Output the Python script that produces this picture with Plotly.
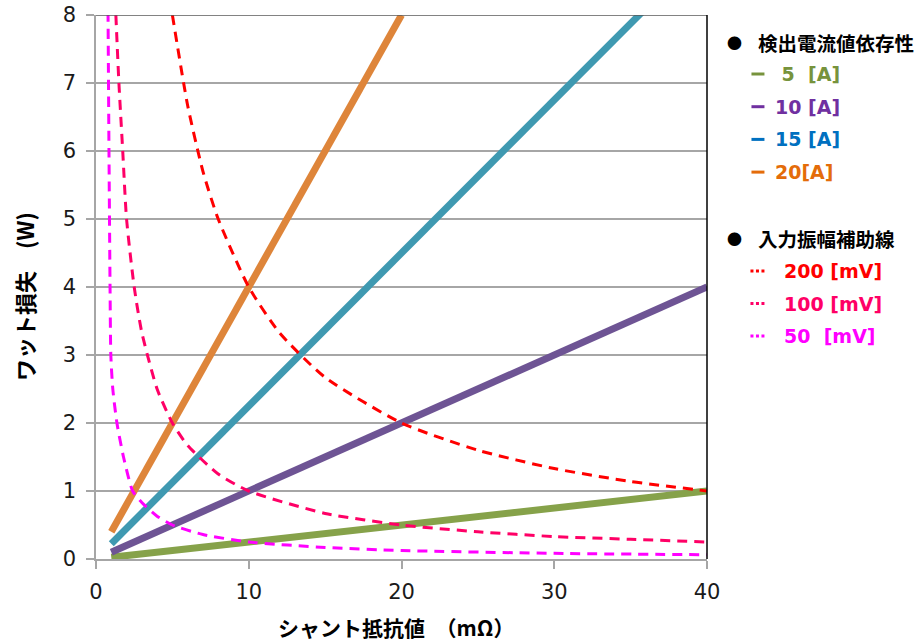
import plotly.graph_objects as go

# ---- data ----
line_names = ["5 [A]", "10 [A]", "15 [A]", "20[A]"]
line_colors = ["#86A24A", "#6E5494", "#3F99B1", "#DE853A"]
line_x = [[1, 40], [1, 40], [1, 40], [1, 20]]
line_y = [[0.025, 1.0], [0.1, 4.0], [0.225, 9.0], [0.4, 8.0]]

curve_names = ["200 [mV]", "100 [mV]", "50 [mV]"]
curve_colors = ["#FF0000", "#FF0066", "#FF00FF"]
red_x = [5, 6, 7, 8, 10, 12, 15, 20, 25, 30, 35, 40]
red_y = [8.0, 6.67, 5.7, 5.0, 4.0, 3.33, 2.67, 2.0, 1.6, 1.33, 1.14, 1.0]
crim_x = [1.3, 1.5, 1.75, 2, 2.5, 3, 4, 5, 6, 8, 10, 15, 20, 25, 30, 35, 40]
crim_y = [8.0, 7.0, 6.0, 5.0, 4.0, 3.33, 2.5, 2.0, 1.67, 1.25, 1.0, 0.67, 0.5, 0.4, 0.33, 0.29, 0.25]
mag_x = [0.78, 0.85, 0.92, 0.97, 1.1, 1.37, 1.8, 2.4, 3, 4, 5, 7, 10, 15, 20, 30, 40]
mag_y = [8.3, 6.0, 4.0, 3.0, 2.5, 2.0, 1.5, 1.0, 0.83, 0.63, 0.5, 0.36, 0.25, 0.17, 0.125, 0.083, 0.063]
curve_x = [red_x, crim_x, mag_x]
curve_y = [red_y, crim_y, mag_y]

x_ticks = [0, 10, 20, 30, 40]
y_ticks = [0, 1, 2, 3, 4, 5, 6, 7, 8]

W, H = 917, 643
L, R, T, B = 96, 707.5, 15, 559  # plot box in pixels

fig = go.Figure()
for nm, c, xs, ys in zip(line_names, line_colors, line_x, line_y):
    fig.add_trace(go.Scatter(x=xs, y=ys, mode="lines", name=nm,
                             line=dict(color=c, width=7)))
for nm, c, xs, ys in zip(curve_names, curve_colors, curve_x, curve_y):
    fig.add_trace(go.Scatter(x=xs, y=ys, mode="lines", name=nm,
                             line=dict(color=c, width=3, dash="10px,7px",
                                       shape="spline", smoothing=0.6)))

def px(xp):
    return (xp - L) / (R - L)

def py(yp):
    return (B - yp) / (B - T)

ann = []
shapes = []
jp = "Noto Sans CJK JP"
lat = "DejaVu Sans"
def add_text(x, y, text, color="#000000", size=17, xanchor="left", family=jp):
    ann.append(dict(x=px(x), y=py(y), xref="paper", yref="paper", text=text,
                    showarrow=False, xanchor=xanchor, yanchor="middle",
                    font=dict(family=family, size=size, color=color)))

def add_mark(x0, x1, y, color, dash="solid"):
    shapes.append(dict(type="line", xref="paper", yref="paper",
                       x0=px(x0), x1=px(x1), y0=py(y), y1=py(y),
                       line=dict(color=color, width=3, dash=dash)))

# legend group 1
add_text(735, 42, "●", size=15, xanchor="center")
add_text(757, 42, "<b>検出電流値依存性</b>", size=19.5)
leg_text_colors = ["#77933C", "#7030A0", "#0070C0", "#E46C0A"]
leg_labels = ["\u00a05\u00a0\u00a0[A]", "10\u00a0[A]", "15\u00a0[A]", "20[A]"]
for i, (lab, c) in enumerate(zip(leg_labels, leg_text_colors)):
    yy = 74 + i * 32.7
    add_mark(752, 765, yy, c)
    add_text(774, yy, "<b>" + lab + "</b>", color=c, size=19, family=lat)

# legend group 2
add_text(735, 238, "●", size=15, xanchor="center")
add_text(757, 238, "<b>入力振幅補助線</b>", size=19.5)
leg2_labels = ["200\u00a0[mV]", "100\u00a0[mV]", "50\u00a0\u00a0[mV]"]
for i, (lab, c) in enumerate(zip(leg2_labels, curve_colors)):
    yy = 271 + i * 32.5
    add_mark(751, 765, yy, c, dash="3px,2.5px")
    add_text(783, yy, "<b>" + lab + "</b>", color=c, size=19, family=lat)

# axis titles
ann.append(dict(x=px(396), y=py(627), xref="paper", yref="paper",
                text="<b>シャント抵抗値\u3000（mΩ）</b>", showarrow=False,
                xanchor="center", yanchor="middle",
                font=dict(family=jp, size=21, color="#000000")))
ann.append(dict(x=px(24), y=py(297), xref="paper", yref="paper",
                text="<b>ワット損失\u3000(W)</b>", showarrow=False, textangle=-90,
                xanchor="center", yanchor="middle",
                font=dict(family=jp, size=22, color="#000000")))

shapes += [
    dict(type="line", xref="paper", yref="y", x0=0, x1=1, y0=8, y1=8,
         layer="above", line=dict(color="#595959", width=1.5)),
    dict(type="line", xref="paper", yref="paper", x0=1, x1=1, y0=0, y1=1,
         layer="above", line=dict(color="#000000", width=1.5)),
]

fig.update_layout(
    width=W, height=H,
    margin=dict(l=L, r=W - R, t=T, b=H - B, pad=0, autoexpand=False),
    paper_bgcolor="white", plot_bgcolor="white",
    showlegend=False,
    annotations=ann,
    shapes=shapes,
    font=dict(family=lat, size=21, color="#000000"),
)
fig.update_xaxes(range=[0, 40], tickvals=x_ticks, showgrid=False, zeroline=False,
                 automargin=False, ticklabeloverflow="allow",
                 showline=True, linecolor="#A6A6A6", linewidth=1.5,
                 ticks="outside", ticklen=8, tickcolor="#A6A6A6", tickwidth=1.5,
                 ticklabelstandoff=5,
                 tickfont=dict(family=lat, size=21, color="#1a1a1a"))
fig.update_yaxes(range=[0, 8], tickvals=y_ticks, showgrid=True, gridcolor="#A6A6A6",
                 gridwidth=1.5, zeroline=False, automargin=False,
                 ticklabeloverflow="allow",
                 showline=True, linecolor="#A6A6A6", linewidth=1.5,
                 ticks="outside", ticklen=8, tickcolor="#A6A6A6", tickwidth=1.5,
                 ticklabelstandoff=6,
                 tickfont=dict(family=lat, size=21, color="#1a1a1a"))

fig.write_html("out.html", config={"displayModeBar": False},
               post_script="document.body.style.margin='0';")
